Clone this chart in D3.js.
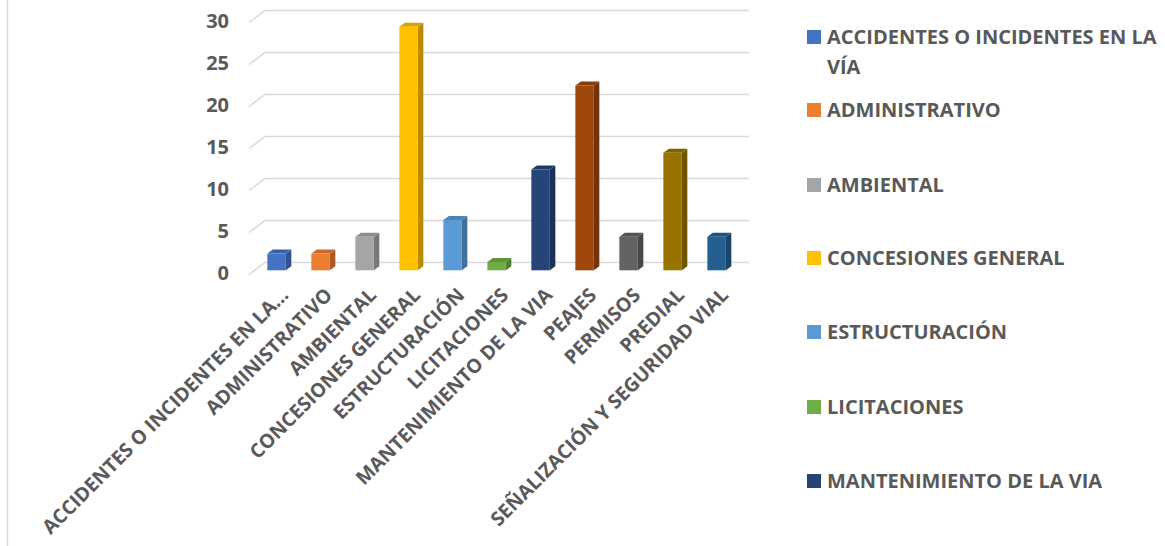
<!DOCTYPE html>
<html><head><meta charset="utf-8">
<script src="https://cdn.jsdelivr.net/npm/d3@7"></script>
<style>
body{margin:0;background:#fff}
svg{display:block}
text{font-family:"Open Sans",sans-serif;font-weight:700;fill:#595959}
</style>
</head><body>
<svg id="c" width="1165" height="546"></svg>
<script>
const categories = ["ACCIDENTES O INCIDENTES EN LA VÍA","ADMINISTRATIVO","AMBIENTAL","CONCESIONES GENERAL","ESTRUCTURACIÓN","LICITACIONES","MANTENIMIENTO DE LA VIA","PEAJES","PERMISOS","PREDIAL","SEÑALIZACIÓN Y SEGURIDAD VIAL"];
const axisLabels = ["ACCIDENTES O INCIDENTES EN LA...","ADMINISTRATIVO","AMBIENTAL","CONCESIONES GENERAL","ESTRUCTURACIÓN","LICITACIONES","MANTENIMIENTO DE LA VIA","PEAJES","PERMISOS","PREDIAL","SEÑALIZACIÓN Y SEGURIDAD VIAL"];
const values = [2,2,4,29,6,1,12,22,4,14,4];
const colors = ["#4472C4","#ED7D31","#A5A5A5","#FFC000","#5B9BD5","#70AD47","#264478","#9E480E","#636363","#997300","#255E91"];
const yTicks = [0,5,10,15,20,25,30];
const legendShown = 7;

const svg = d3.select("#c");
// chart border line on left
svg.append("line").attr("x1",7.5).attr("x2",7.5).attr("y1",0).attr("y2",546)
  .attr("stroke","#d9d9d9").attr("stroke-width",1.5);

const backX0 = 265, backX1 = 749;
const depthDX = -16, depthDY = 12;   // back plane -> front plane
const barF = 0.65;                    // bar position within depth
const y = d3.scaleLinear().domain([0,30]).range([262.5,10.5]);
const x = d3.scaleBand().domain(categories).range([backX0,backX1]).paddingInner(0.58).paddingOuter(0.29);

// gridlines
const grid = svg.append("g");
yTicks.forEach(t=>{
  grid.append("path")
    .attr("d",`M${backX0+depthDX},${y(t)+depthDY}L${backX0},${y(t)}L${backX1},${y(t)}`)
    .attr("fill","none").attr("stroke","#d9d9d9").attr("stroke-width",1.5);
});
// y labels
svg.append("g").selectAll("text").data(yTicks).join("text")
  .attr("x",229).attr("y",d=>y(d)+depthDY-2).attr("dy","0.36em")
  .attr("text-anchor","end").style("font-size","20px").text(d=>d);

// bars
const sx = depthDX*barF, sy = depthDY*barF;
const bdx = 5.5, bdy = -4;
const bars = svg.append("g");
categories.forEach((c,i)=>{
  const x0 = x(c)+sx, w = x.bandwidth();
  const top = y(values[i])+sy, bot = y(0)+sy;
  const col = d3.color(colors[i]);
  bars.append("path").attr("d",`M${x0+w},${top}L${x0+w+bdx},${top+bdy}L${x0+w+bdx},${bot+bdy}L${x0+w},${bot}Z`)
    .attr("fill",col.darker(0.9));
  bars.append("path").attr("d",`M${x0},${top}L${x0+bdx},${top+bdy}L${x0+w+bdx},${top+bdy}L${x0+w},${top}Z`)
    .attr("fill",col.darker(0.45));
  bars.append("rect").attr("x",x0).attr("y",top).attr("width",w).attr("height",bot-top)
    .attr("fill",colors[i]);
});

// x labels
svg.append("g").selectAll("text").data(categories).join("text")
  .attr("transform",(d)=>`translate(${x(d)+sx+x.bandwidth()/2+13},${y(0)+sy+26}) rotate(-45)`)
  .attr("text-anchor","end").style("font-size","19.5px")
  .text((d,i)=>axisLabels[i]);

// legend
const leg = svg.append("g");
const legY = [37,110,185,258,332,407,481];
categories.slice(0,legendShown).forEach((c,i)=>{
  leg.append("rect").attr("x",807).attr("y",legY[i]-7).attr("width",14).attr("height",14).attr("fill",colors[i]);
  const t = leg.append("text").attr("x",827).attr("y",legY[i]).style("font-size","20px");
  const words = c.split(" ");
  let line = [];
  let tspan = t.append("tspan").attr("x",827).attr("dy","0.36em");
  words.forEach(wd=>{
    line.push(wd);
    tspan.text(line.join(" "));
    if (tspan.node().getComputedTextLength() > 335 && line.length>1){
      line.pop(); tspan.text(line.join(" "));
      line = [wd];
      tspan = t.append("tspan").attr("x",827).attr("dy","1.5em").text(wd);
    }
  });
});
</script>
</body></html>
